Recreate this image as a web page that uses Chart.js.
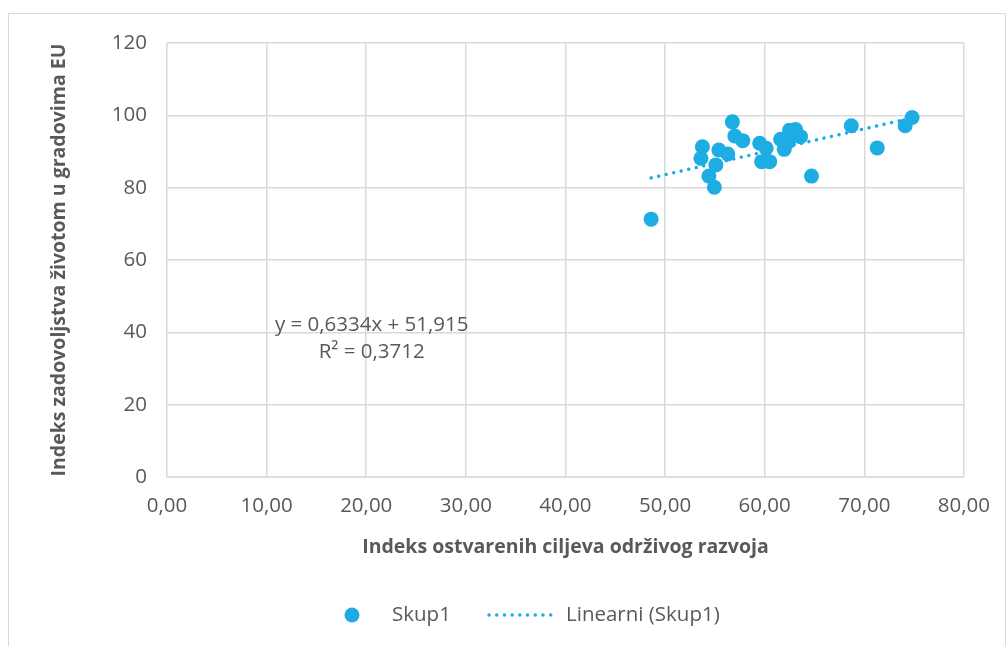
<!DOCTYPE html>
<html>
<head>
<meta charset="utf-8">
<script src="https://cdn.jsdelivr.net/npm/chart.js@4.4.1/dist/chart.umd.min.js"></script>
<style>
  html, body { margin: 0; padding: 0; background: #fff; overflow: hidden; }
  #frame { position: absolute; left: 8px; top: 13px; width: 998px; height: 700px; border: 1px solid #d9d9d9; box-sizing: border-box; }
  #wrap { position: absolute; left: 0; top: 0; width: 1007px; height: 646px; }
</style>
</head>
<body>
<div id="frame"></div>
<div id="wrap"><canvas id="chart"></canvas></div>
<script>
// ---------- data ----------
const sdgIndex = [48.6, 53.6, 53.75, 54.4, 54.95, 55.1, 55.4, 56.3, 56.76, 57.0, 57.8,
                  59.5, 59.7, 60.15, 60.5, 61.6, 61.96, 62.4, 62.5, 63.1, 63.6, 64.7,
                  68.7, 71.3, 74.1, 74.8];
const satisfaction = [71.3, 88.1, 91.3, 83.2, 80.1, 86.3, 90.4, 89.3, 98.2, 94.3, 93.0,
                      92.3, 87.2, 90.9, 87.2, 93.4, 90.6, 92.7, 95.9, 96.1, 94.1, 83.2,
                      97.1, 91.0, 97.1, 99.4];
const trendX = [48.6, 74.8];
const trendY = [82.7, 99.3];
const eqLines = ['y = 0,6334x + 51,915', 'R² = 0,3712'];
const seriesName = 'Skup1';
const trendName = 'Linearni (Skup1)';
const xTitle = 'Indeks ostvarenih ciljeva održivog razvoja';
const yTitle = 'Indeks zadovoljstva životom u gradovima EU';

// ---------- style ----------
const BLUE = '#1dade3';
const TXT = '#595959';
const GRID = '#d9d9d9';
const FONT = "'Open Sans', sans-serif";

const points = sdgIndex.map((x, i) => ({ x, y: satisfaction[i] }));
const trend = trendX.map((x, i) => ({ x, y: trendY[i] }));

// ---------- plugin: equation label + legend ----------
const extras = {
    id: 'extras',
    afterDraw(chart) {
        const c = chart.ctx;
        const xs = chart.scales.x, ys = chart.scales.y;
        c.save();
        c.fillStyle = TXT;
        c.font = '20.5px ' + FONT;
        c.textAlign = 'center';
        c.textBaseline = 'middle';
        c.fillText(eqLines[0], xs.getPixelForValue(20.55), ys.getPixelForValue(42));
        c.fillText(eqLines[1], xs.getPixelForValue(20.55), ys.getPixelForValue(34.6));

        // legend
        const ly = 615;
        c.fillStyle = BLUE;
        c.beginPath();
        c.arc(352, ly, 7.5, 0, Math.PI * 2);
        c.fill();
        c.fillStyle = TXT;
        c.textAlign = 'left';
        c.fillText(seriesName, 392, ly);
        c.strokeStyle = BLUE;
        c.lineWidth = 3.5;
        c.lineCap = 'round';
        c.setLineDash([0.01, 7.7]);
        c.beginPath();
        c.moveTo(489, ly);
        c.lineTo(555, ly);
        c.stroke();
        c.setLineDash([]);
        c.fillText(trendName, 566, ly);
        c.restore();
    }
};

// ---------- chart ----------
const ctx = document.getElementById('chart').getContext('2d');
new Chart(ctx, {
    type: 'scatter',
    data: {
        datasets: [
            {
                label: seriesName,
                data: points,
                backgroundColor: BLUE,
                borderColor: BLUE,
                pointRadius: 7.5,
                pointHoverRadius: 7.5,
                borderWidth: 0,
                order: 1
            },
            {
                label: trendName,
                type: 'line',
                data: trend,
                borderColor: BLUE,
                borderWidth: 3.5,
                borderCapStyle: 'round',
                borderDash: [0.01, 7.7],
                pointRadius: 0,
                fill: false,
                order: 2
            }
        ]
    },
    options: {
        responsive: true,
        maintainAspectRatio: false,
        animation: false,
        layout: { padding: { left: 0, right: 42, top: 43, bottom: 74 } },
        plugins: {
            legend: { display: false },
            tooltip: { enabled: false }
        },
        scales: {
            x: {
                type: 'linear',
                min: 0, max: 80,
                ticks: {
                    stepSize: 10,
                    color: TXT,
                    font: { family: FONT, size: 20.5 },
                    padding: 17,
                    callback: v => v.toFixed(2).replace('.', ',')
                },
                grid: { color: GRID, lineWidth: 1.5, drawTicks: false },
                border: { color: GRID, width: 1.5 },
                title: {
                    display: true, text: xTitle, color: TXT,
                    font: { family: FONT, size: 19.5, weight: 'bold' },
                    padding: { top: 0, bottom: 13 }
                },
                afterFit: s => { s.height = 95; }
            },
            y: {
                type: 'linear',
                min: 0, max: 120,
                ticks: {
                    stepSize: 20,
                    color: TXT,
                    font: { family: FONT, size: 20.5 },
                    padding: 20
                },
                grid: { color: GRID, lineWidth: 1.5, drawTicks: false },
                border: { display: false },
                title: {
                    display: true, text: yTitle, color: TXT,
                    font: { family: FONT, size: 19.5, weight: 'bold' },
                    padding: { top: 48, bottom: 0 }
                },
                afterFit: s => { s.width = 167; }
            }
        }
    },
    plugins: [extras]
});
</script>
</body>
</html>
